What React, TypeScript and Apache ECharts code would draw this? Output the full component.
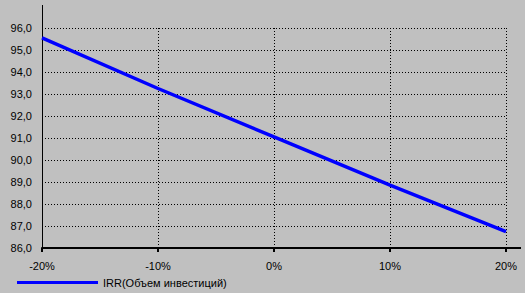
import React, { useEffect, useRef } from "react";
import * as echarts from "echarts";

const categories = ["-20%", "-10%", "0%", "10%", "20%"];
const irrValues = [95.55, 93.25, 91.05, 88.86, 86.74];
const seriesName = "IRR(Объем инвестиций)";
const yMin = 86;
const yMax = 96;
const yInterval = 1;

export default function App() {
  const ref = useRef<HTMLDivElement>(null);
  useEffect(() => {
    if (!ref.current) return;
    const chart = echarts.init(ref.current, undefined, { renderer: "svg" });
    const font = "'Liberation Sans', Arial, sans-serif";
    chart.setOption({
      animation: false,
      backgroundColor: "#C0C0C0",
      textStyle: { fontFamily: font },
      grid: { left: 42, right: 19, top: 28, bottom: 45, containLabel: false },
      legend: {
        left: 12,
        bottom: 0,
        itemWidth: 81,
        itemHeight: 3,
        icon: "rect",
        textStyle: { fontFamily: font, fontSize: 11, color: "#000" },
        data: [seriesName],
      },
      xAxis: {
        type: "category",
        data: categories,
        boundaryGap: false,
        axisLine: { lineStyle: { color: "#000", width: 2 } },
        axisTick: { show: true, length: 4, lineStyle: { color: "#000", width: 2 } },
        axisLabel: { color: "#000", fontSize: 11, margin: 12, fontFamily: font },
        splitLine: { show: true, lineStyle: { color: "#000", type: [1, 2], width: 1 } },
      },
      yAxis: {
        type: "value",
        min: yMin,
        max: yMax,
        interval: yInterval,
        axisLine: { show: true, lineStyle: { color: "#000", width: 1 } },
        axisTick: { show: false },
        axisLabel: {
          color: "#000",
          fontSize: 11,
          margin: 10,
          fontFamily: font,
          formatter: (v: number) => v.toFixed(1).replace(".", ","),
        },
        splitLine: { show: true, lineStyle: { color: "#000", type: [1, 2], width: 1 } },
      },
      graphic: [
        { type: "line", shape: { x1: 42.5, y1: 5, x2: 42.5, y2: 28 }, style: { stroke: "#000", lineWidth: 1 } },
        { type: "line", shape: { x1: 506, y1: 248, x2: 521, y2: 248 }, style: { stroke: "#000", lineWidth: 2 } },
      ],
      series: [
        {
          name: seriesName,
          type: "line",
          data: irrValues,
          showSymbol: false,
          symbol: "none",
          itemStyle: { color: "#0000FF" },
          lineStyle: { color: "#0000FF", width: 3.5 },
        },
      ],
    });
    return () => chart.dispose();
  }, []);
  return <div ref={ref} style={{ width: 525, height: 293, position: "absolute", left: 0, top: 0 }} />;
}
